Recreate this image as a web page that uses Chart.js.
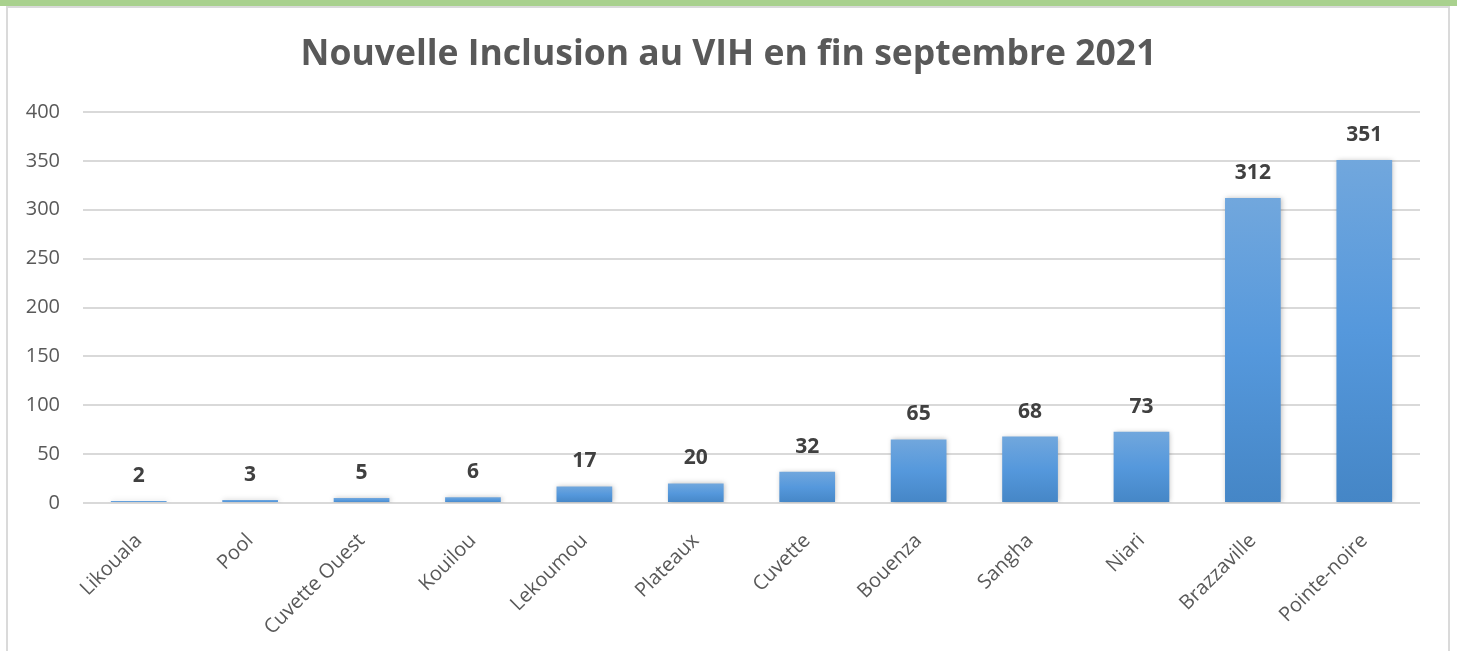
<!DOCTYPE html>
<html>
<head>
    <title>Nouvelle Inclusion au VIH</title>
    <script src="https://cdn.jsdelivr.net/npm/chart.js"></script>
    <style>
        body { margin: 0; background: #fff; font-family: "Open Sans"; overflow: hidden; }
        .topbar { position: absolute; left: 0; top: 0; width: 1457px; height: 6px; background: #a9d18e; }
        .card { position: absolute; left: 6px; top: 6px; width: 1440px; height: 700px; border: 2px solid #dadada; border-bottom: none; }
        .wrap { position: absolute; left: 0; top: 0; width: 1457px; height: 651px; }
    </style>
</head>
<body>
    <div class="topbar"></div>
    <div class="card"></div>
    <div class="wrap"><canvas id="chart"></canvas></div>

    <script>
        // Données
        const chartTitle = 'Nouvelle Inclusion au VIH en fin septembre 2021';
        const regions = ['Likouala', 'Pool', 'Cuvette Ouest', 'Kouilou', 'Lekoumou', 'Plateaux',
                         'Cuvette', 'Bouenza', 'Sangha', 'Niari', 'Brazzaville', 'Pointe-noire'];
        const inclusions = [2, 3, 5, 6, 17, 20, 32, 65, 68, 73, 312, 351];
        const yTicks = [0, 50, 100, 150, 200, 250, 300, 350, 400];

        // Dégradé vertical sur chaque barre
        function barGradient(ctx) {
            const chart = ctx.chart;
            if (!chart.chartArea || !chart.scales.y) return '#5b9bd5';
            const y = chart.scales.y;
            const top = y.getPixelForValue(ctx.raw);
            const bottom = y.getPixelForValue(0);
            const g = chart.ctx.createLinearGradient(0, top, 0, bottom);
            g.addColorStop(0, '#71a7dd');
            g.addColorStop(0.5, '#5598dc');
            g.addColorStop(1, '#4586c6');
            return g;
        }

        // Ombre + étiquettes de valeurs + titre centré sur toute la largeur
        const barDecor = {
            id: 'barDecor',
            beforeDatasetsDraw(chart) {
                const c = chart.ctx;
                c.save();
                c.shadowColor = 'rgba(0,0,0,0.25)';
                c.shadowBlur = 5;
                c.shadowOffsetX = 1;
                c.shadowOffsetY = 0;
            },
            afterDatasetsDraw(chart) {
                const c = chart.ctx;
                c.restore();
                c.save();
                c.font = 'bold 21px "Open Sans"';
                c.fillStyle = '#404040';
                c.textAlign = 'center';
                c.textBaseline = 'middle';
                chart.getDatasetMeta(0).data.forEach((bar, i) => {
                    c.fillText(inclusions[i], bar.x, bar.y - 25);
                });
                c.font = 'bold 35.5px "Open Sans"';
                c.fillStyle = '#595959';
                c.fillText(chartTitle, chart.width / 2, 55);
                c.restore();
            }
        };

        new Chart(document.getElementById('chart'), {
            type: 'bar',
            data: {
                labels: regions,
                datasets: [{
                    data: inclusions,
                    backgroundColor: barGradient,
                    borderWidth: 0,
                    barPercentage: 0.5,
                    categoryPercentage: 1
                }]
            },
            plugins: [barDecor],
            options: {
                responsive: true,
                maintainAspectRatio: false,
                animation: false,
                layout: { padding: { left: 0, right: 37, top: 112, bottom: 0 } },
                plugins: {
                    legend: { display: false },
                    tooltip: { enabled: false },
                    title: { display: false }
                },
                scales: {
                    x: {
                        grid: { display: false },
                        border: { display: false },
                        ticks: {
                            color: '#595959',
                            font: { family: 'Open Sans', size: 20 },
                            maxRotation: 45,
                            minRotation: 45,
                            padding: 18
                        },
                        afterFit(scale) { scale.height = 148; }
                    },
                    y: {
                        min: 0,
                        max: 400,
                        afterBuildTicks(scale) { scale.ticks = yTicks.map(v => ({ value: v })); },
                        grid: { color: '#d9d9d9', lineWidth: 2, drawTicks: false },
                        border: { display: false },
                        ticks: {
                            color: '#595959',
                            font: { family: 'Open Sans', size: 20 },
                            padding: 23
                        },
                        afterFit(scale) { scale.width = 83; }
                    }
                }
            }
        });
    </script>
</body>
</html>
